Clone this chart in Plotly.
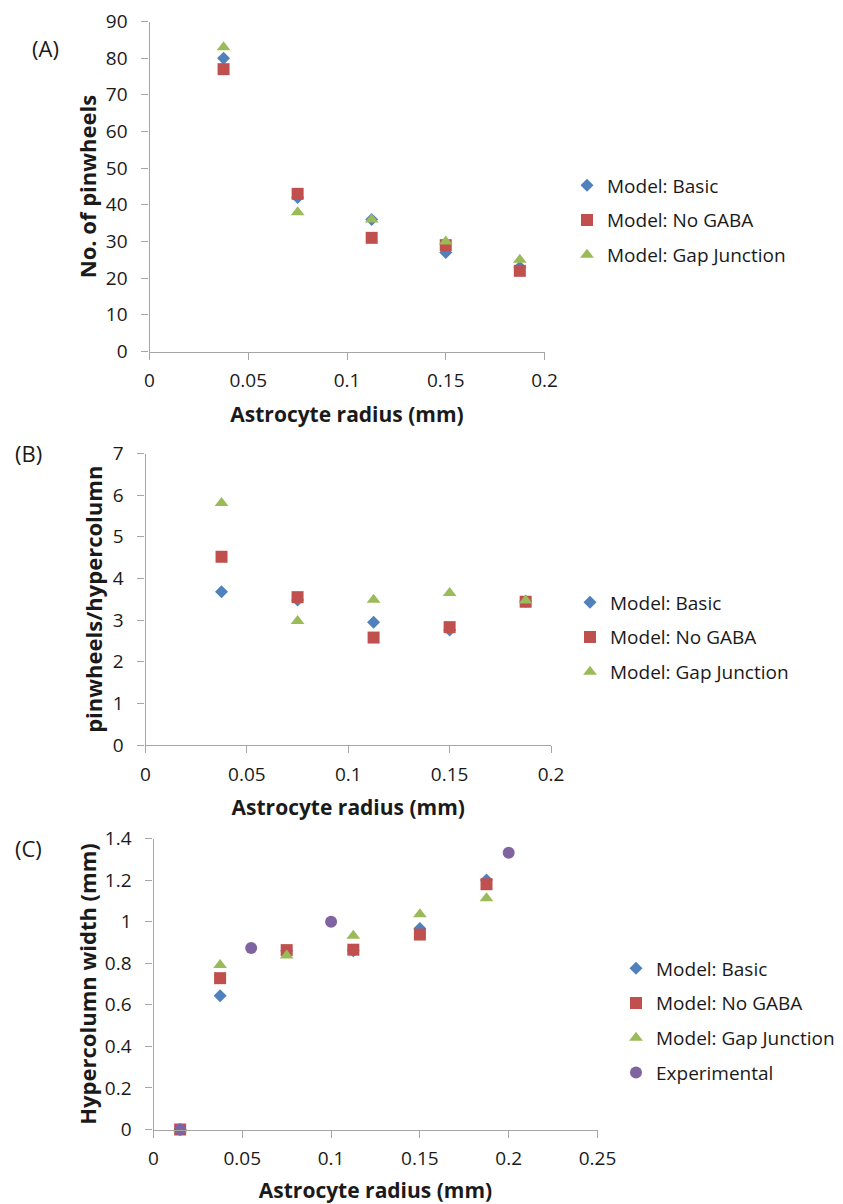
import plotly.graph_objects as go

# The page body has an 8px margin, so the figure is placed at (8, 8) in the window.
OFF = 8
W, H = 843 - OFF, 1204 - OFF

# ---------------- data ----------------
x_model = [0.0375, 0.075, 0.1125, 0.15, 0.1875]
a_basic = [80, 42, 36, 27, 23]
a_nogaba = [77, 43, 31, 29, 22]
a_gap = [83, 38, 36, 30, 25]

b_basic = [3.68, 3.48, 2.95, 2.76, 3.45]
b_nogaba = [4.52, 3.55, 2.58, 2.83, 3.44]
b_gap = [5.81, 2.98, 3.49, 3.65, 3.47]

x_model_c = [0.015, 0.0375, 0.075, 0.1125, 0.15, 0.1875]
c_basic = [0.0, 0.643, 0.86, 0.86, 0.967, 1.2]
c_nogaba = [0.0, 0.728, 0.863, 0.865, 0.938, 1.18]
c_gap = [0.0, 0.792, 0.837, 0.932, 1.035, 1.113]
x_exp = [0.015, 0.055, 0.1, 0.2]
c_exp = [0.0, 0.873, 1.0, 1.331]

names = ["Model: Basic", "Model: No GABA", "Model: Gap Junction", "Experimental"]
colors = ["#4F81BD", "#C0504D", "#9BBB59", "#8064A2"]
symbols = ["diamond", "square", "triangle-up", "circle"]
sizes = [10, 12, 12, 12]

FONT = "'Open Sans', sans-serif"
AX_COLOR = "#A6A6A6"
TXT = "#1a1a1a"

fig = go.Figure()

def fx(px):  # page x pixel -> paper fraction
    return (px - OFF) / W

def fy(py):  # page y pixel -> paper fraction
    return 1 - (py - OFF) / H

panels = [
    dict(xs=[x_model] * 3, ys=[a_basic, a_nogaba, a_gap], n=3,
         xd=[fx(149.5), fx(544.5)], yd=[fy(351.5), fy(21.5)],
         xr=[0, 0.2], xdt=0.05, yr=[0, 90], ydt=10,
         ytitle="No. of pinwheels", ystand=3, legend="legend"),
    dict(xs=[x_model] * 3, ys=[b_basic, b_nogaba, b_gap], n=3,
         xd=[fx(145.5), fx(551)], yd=[fy(745), fy(453.5)],
         xr=[0, 0.2], xdt=0.05, yr=[0, 7], ydt=1,
         ytitle="pinwheels/hypercolumn", ystand=3, legend="legend2"),
    dict(xs=[x_model_c] * 3 + [x_exp], ys=[c_basic, c_nogaba, c_gap, c_exp], n=4,
         xd=[fx(153.5), fx(597.5)], yd=[fy(1129.5), fy(838.5)],
         xr=[0, 0.25], xdt=0.05, yr=[0, 1.4], ydt=0.2,
         ytitle="Hypercolumn width (mm)", ystand=2, legend="legend3"),
]

layout_axes = {}
for i, p in enumerate(panels):
    k = "" if i == 0 else str(i + 1)
    for j in range(p["n"]):
        fig.add_trace(go.Scatter(
            x=p["xs"][j], y=p["ys"][j], mode="markers", name=names[j],
            marker=dict(symbol=symbols[j], color=colors[j], size=sizes[j]),
            xaxis="x" + k, yaxis="y" + k, legend=p["legend"],
            legendgroup=f"g{i}{j}", cliponaxis=False,
        ))
    common = dict(showgrid=False, zeroline=False, showline=True, linecolor=AX_COLOR,
                  linewidth=1.3, ticks="outside", ticklen=7, tickcolor=AX_COLOR,
                  tickwidth=1.3, automargin=False, ticklabeloverflow="allow",
                  tickfont=dict(family=FONT, size=19, color=TXT))
    layout_axes["xaxis" + k] = dict(
        domain=p["xd"], range=p["xr"], dtick=p["xdt"], tick0=0, anchor="y" + k,
        ticklabelstandoff=5,
        title=dict(text="<b>Astrocyte radius (mm)</b>", font=dict(family=FONT, size=21, color=TXT), standoff=14),
        **common)
    layout_axes["yaxis" + k] = dict(
        domain=p["yd"], range=p["yr"], dtick=p["ydt"], tick0=0, anchor="x" + k,
        ticklabelstandoff=10,
        title=dict(text="<b>" + p["ytitle"] + "</b>", font=dict(family=FONT, size=22, color=TXT),
                   standoff=p["ystand"]),
        **common)

leg_common = dict(font=dict(family=FONT, size=19, color=TXT), bgcolor="rgba(0,0,0,0)",
                  tracegroupgap=7, yanchor="top", xanchor="left", itemwidth=30)

fig.update_layout(
    width=W, height=H, margin=dict(l=0, r=0, t=0, b=0, autoexpand=False),
    paper_bgcolor="white", plot_bgcolor="white",
    showlegend=True,
    legend=dict(x=fx(567), y=fy(166.5), **leg_common),
    legend2=dict(x=fx(570), y=fy(583.5), **leg_common),
    legend3=dict(x=fx(616), y=fy(949.5), **leg_common),
    annotations=[
        dict(text=lbl, x=fx(px), y=fy(py), xref="paper", yref="paper", showarrow=False,
             xanchor="center", yanchor="middle", font=dict(family=FONT, size=22, color=TXT))
        for lbl, px, py in [("(A)", 45, 48), ("(B)", 28, 453), ("(C)", 28, 848)]
    ],
    **layout_axes,
)

fig.write_html("out.html")
